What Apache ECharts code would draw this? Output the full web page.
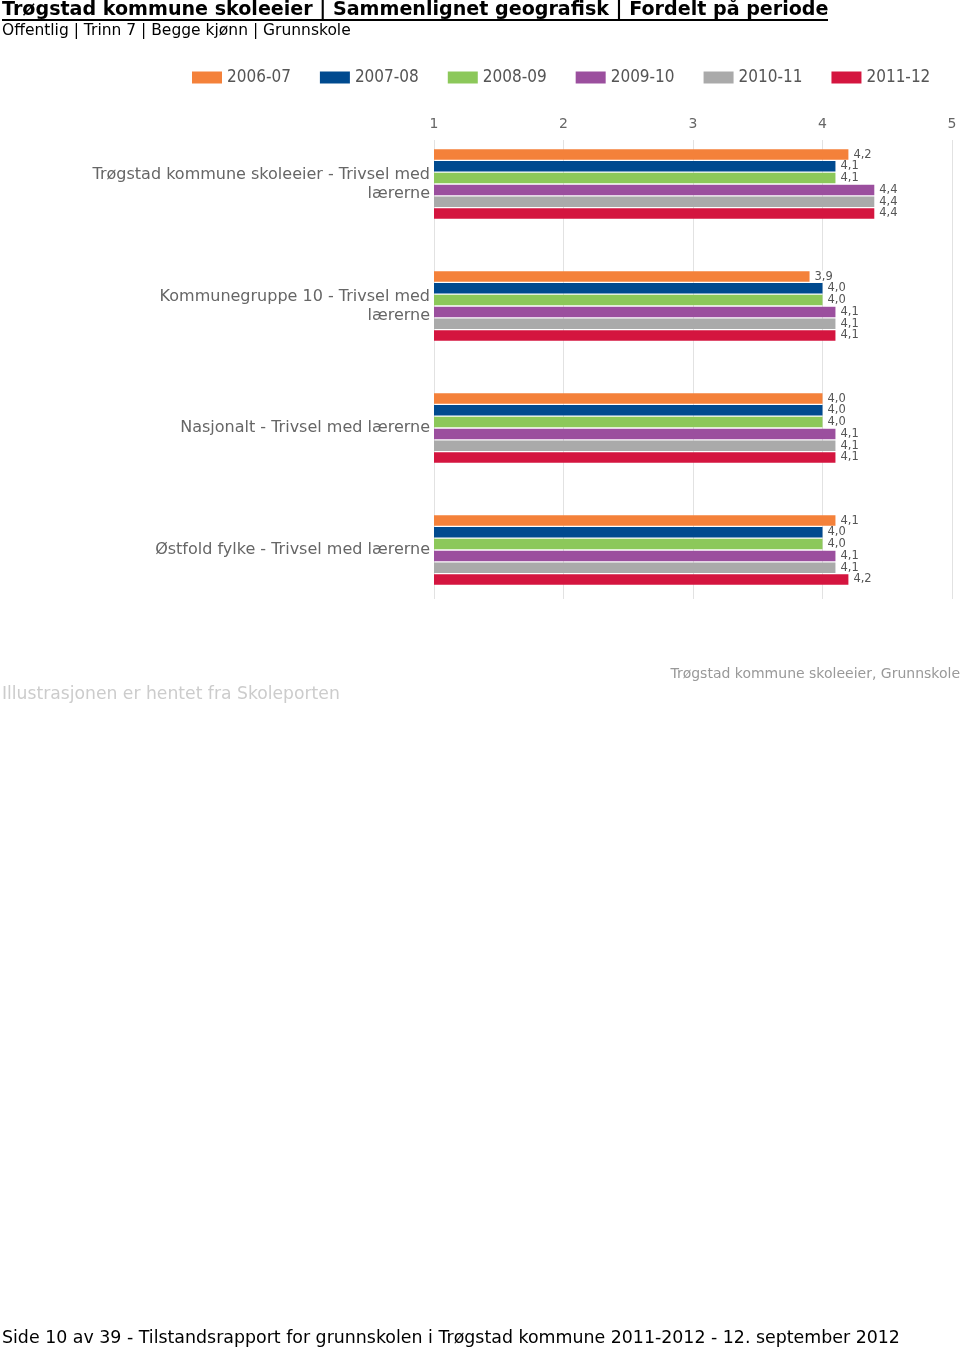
<!DOCTYPE html>
<html>
<head>
<meta charset="utf-8">
<script src="https://cdn.jsdelivr.net/npm/echarts@6/dist/echarts.min.js"></script>
<style>
html,body{margin:0;padding:0;background:#fff;}
#chart{width:960px;height:1351px;}
</style>
</head>
<body>
<div id="chart"></div>
<script>
var categories = [
  'Trøgstad kommune skoleeier - Trivsel med lærerne',
  'Kommunegruppe 10 - Trivsel med lærerne',
  'Nasjonalt - Trivsel med lærerne',
  'Østfold fylke - Trivsel med lærerne'
];
var periods = ['2006-07', '2007-08', '2008-09', '2009-10', '2010-11', '2011-12'];
var s2006_07 = [4.2, 3.9, 4.0, 4.1];
var s2007_08 = [4.1, 4.0, 4.0, 4.0];
var s2008_09 = [4.1, 4.0, 4.0, 4.0];
var s2009_10 = [4.4, 4.1, 4.1, 4.1];
var s2010_11 = [4.4, 4.1, 4.1, 4.1];
var s2011_12 = [4.4, 4.1, 4.1, 4.2];
var xTicks = [1, 2, 3, 4, 5];
var colors = ['#F4813A', '#004A8F', '#8CC85A', '#9B4F9E', '#AAAAAA', '#D4153F'];

var seriesData = [s2006_07, s2007_08, s2008_09, s2009_10, s2010_11, s2011_12];

var chart = echarts.init(document.getElementById('chart'));
var series = periods.map(function (p, i) {
  return {
    name: p,
    type: 'bar',
    xAxisIndex: 0,
    yAxisIndex: 0,
    data: seriesData[i],
    barWidth: 10.5,
    barGap: '12%',
    itemStyle: { color: colors[i] },
    label: {
      show: true,
      position: 'right',
      distance: 3,
      color: '#555',
      fontSize: 11.5,
      fontFamily: 'DejaVu Sans',
      backgroundColor: '#fff',
      padding: [0, 2],
      formatter: function (pr) { return pr.value.toFixed(1).replace('.', ','); }
    }
  };
});

function wrapLabel(s) {
  if (s.length > 36) {
    var k = s.lastIndexOf(' ');
    return s.slice(0, k) + '\n' + s.slice(k + 1);
  }
  return s;
}

chart.setOption({
  animation: false,
  backgroundColor: '#fff',
  title: [
    {
      text: 'Trøgstad kommune skoleeier | Sammenlignet geografisk | Fordelt på periode',
      left: 2, top: 1, padding: 0,
      textStyle: { fontFamily: 'DejaVu Sans', fontWeight: 'bold', fontSize: 19.1, color: '#000' }
    },
    {
      text: 'Offentlig | Trinn 7 | Begge kjønn | Grunnskole',
      left: 2, top: 23, padding: 0,
      textStyle: { fontFamily: 'DejaVu Sans', fontWeight: 'normal', fontSize: 15.5, color: '#000' }
    },
    {
      text: 'Trøgstad kommune skoleeier, Grunnskole',
      right: 0, top: 667, padding: 0,
      textStyle: { fontFamily: 'DejaVu Sans', fontWeight: 'normal', fontSize: 14, color: '#999' }
    },
    {
      text: 'Illustrasjonen er hentet fra Skoleporten',
      left: 2, top: 686, padding: 0,
      textStyle: { fontFamily: 'DejaVu Sans', fontWeight: 'normal', fontSize: 17.2, color: '#ccc' }
    },
    {
      text: 'Side 10 av 39 - Tilstandsrapport for grunnskolen i Trøgstad kommune 2011-2012 - 12. september 2012',
      left: 2, top: 1330, padding: 0,
      textStyle: { fontFamily: 'DejaVu Sans', fontWeight: 'normal', fontSize: 17.4, color: '#000' }
    }
  ],
  graphic: [
    { type: 'rect', shape: { x: 2, y: 19, width: 826, height: 2 }, style: { fill: '#000' } }
  ],
  legend: {
    data: periods,
    left: 192, top: 69, padding: 0,
    itemWidth: 30, itemHeight: 12, itemGap: 29,
    icon: 'rect',
    formatter: '{a|{name}}',
    textStyle: {
      rich: { a: { fontFamily: 'DejaVu Sans Condensed', fontSize: 17, color: '#555', width: 66 } }
    }
  },
  grid: [
    { left: 434, width: 518, top: 123, height: 488, containLabel: false },
    { left: 434, width: 518, top: 140, height: 459, containLabel: false }
  ],
  xAxis: [
    { type: 'value', gridIndex: 0, min: 1, max: 5, interval: 1, show: false },
    {
      type: 'value', gridIndex: 1, position: 'top', min: 1, max: 5, interval: 1,
      axisLine: { show: false }, axisTick: { show: false },
      axisLabel: { color: '#666', fontSize: 14, fontFamily: 'DejaVu Sans', margin: 9,
        formatter: function (v) { return xTicks.indexOf(v) >= 0 ? String(v) : ''; } },
      splitLine: { show: true, lineStyle: { color: '#e2e2e2', width: 1 } }
    }
  ],
  yAxis: [
    {
      type: 'category', gridIndex: 0, data: categories, inverse: true,
      axisLine: { show: false }, axisTick: { show: false },
      axisLabel: {
        color: '#666', fontSize: 16, fontFamily: 'DejaVu Sans', margin: 4,
        lineHeight: 19, align: 'right',
        formatter: wrapLabel
      }
    },
    { type: 'value', gridIndex: 1, show: false }
  ],
  series: series
});
</script>
</body>
</html>
